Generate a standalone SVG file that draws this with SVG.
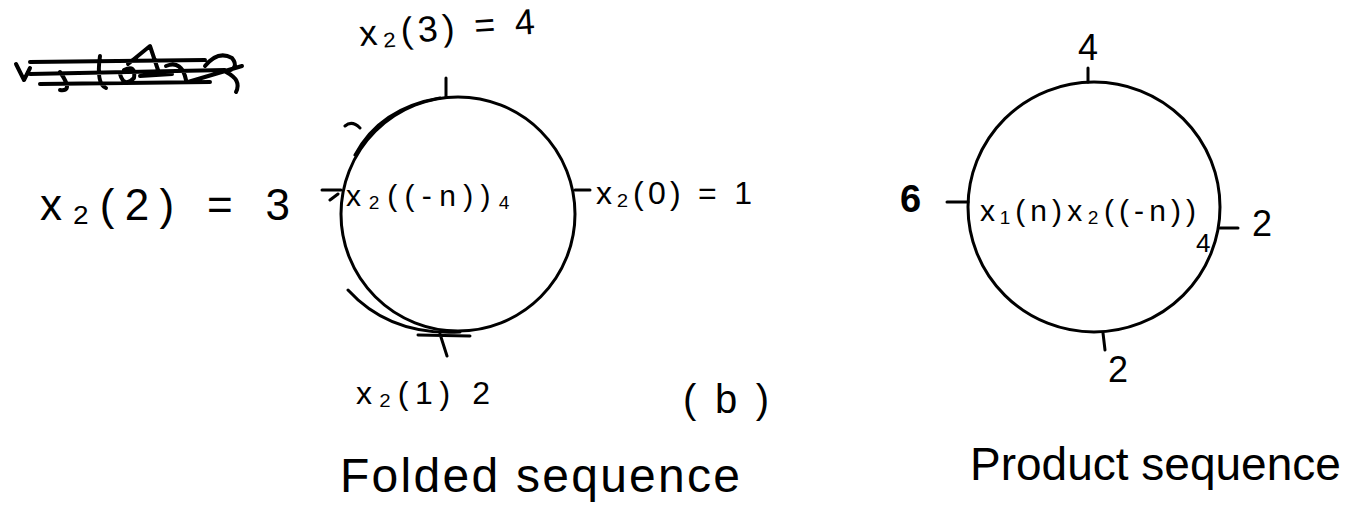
<svg xmlns="http://www.w3.org/2000/svg" width="1366" height="517" viewBox="0 0 1366 517">
<style>
.ln{fill:none;stroke:#000;stroke-width:3;stroke-linecap:round;stroke-linejoin:round}
.sc{fill:none;stroke:#000;stroke-width:4;stroke-linecap:round;stroke-linejoin:round}
.t{font-family:"Liberation Sans",Arial,sans-serif;fill:#000}
.lab{font-size:36px}
.big{font-size:48px}
</style>
<rect width="1366" height="517" fill="#fff"/>
<g id="scribble">
<path class="sc" d="M16 64 L24 80 L30 68 M30 62 L205 60 M30 74 L225 70 M40 84 L210 82 M60 72 Q74 92 60 90 M100 56 Q96 84 106 88 M120 74 Q124 88 134 78 Q136 64 124 70 M128 64 L150 46 L158 70 M140 76 L172 74 M166 66 Q182 60 186 80 M205 66 Q218 50 232 58 Q240 68 226 72 Q242 80 236 92 M188 82 L242 66"/>
</g>
<g id="folded">
<circle class="ln" cx="458" cy="214" r="117"/>
<path class="ln" d="M355 155 Q380 108 440 98 M348 290 Q390 336 460 332 M345 126 Q352 120 360 128"/>
<path class="ln" d="M446 78 L446 97 M575 190 L590 190 M322 190 L341 190 M330 200 L338 194 M440 334 L447 356 M418 335 L470 336"/>
<text class="t lab" x="360" y="46" textLength="176" lengthAdjust="spacing" transform="rotate(-4 360 46)">x₂(3) = 4</text>
<text class="t" font-size="44" x="40" y="220" textLength="250" lengthAdjust="spacing">x₂(2) = 3</text>
<text class="t" x="346" y="206" font-size="30" textLength="164" lengthAdjust="spacing">x₂((-n))₄</text>
<text class="t" x="596" y="204" font-size="32" textLength="156" lengthAdjust="spacing">x₂(0) = 1</text>
<text class="t" x="356" y="404" font-size="32" textLength="134" lengthAdjust="spacing">x₂(1) 2</text>
<text class="t" font-size="40" x="683" y="413" textLength="86" lengthAdjust="spacing">(b)</text>
<text class="t big" x="340" y="492" textLength="400" lengthAdjust="spacing">Folded sequence</text>
</g>
<g id="product">
<ellipse class="ln" cx="1094" cy="207" rx="126" ry="125"/>
<path class="ln" d="M1088 68 L1088 82 M947 202 L968 202 M1220 228 L1238 228 M1103 333 L1105 350"/>
<text class="t lab" x="1078" y="60">4</text>
<text class="t" x="900" y="212" font-size="38" font-weight="bold">6</text>
<text class="t lab" x="1252" y="236">2</text>
<text class="t lab" x="1108" y="382">2</text>
<text class="t" x="980" y="221" font-size="30" textLength="216" lengthAdjust="spacing">x₁(n)x₂((-n))</text>
<text class="t" x="1196" y="252" font-size="26">4</text>
<text class="t" font-size="46" x="970" y="480">Product sequence</text>
</g>
</svg>
